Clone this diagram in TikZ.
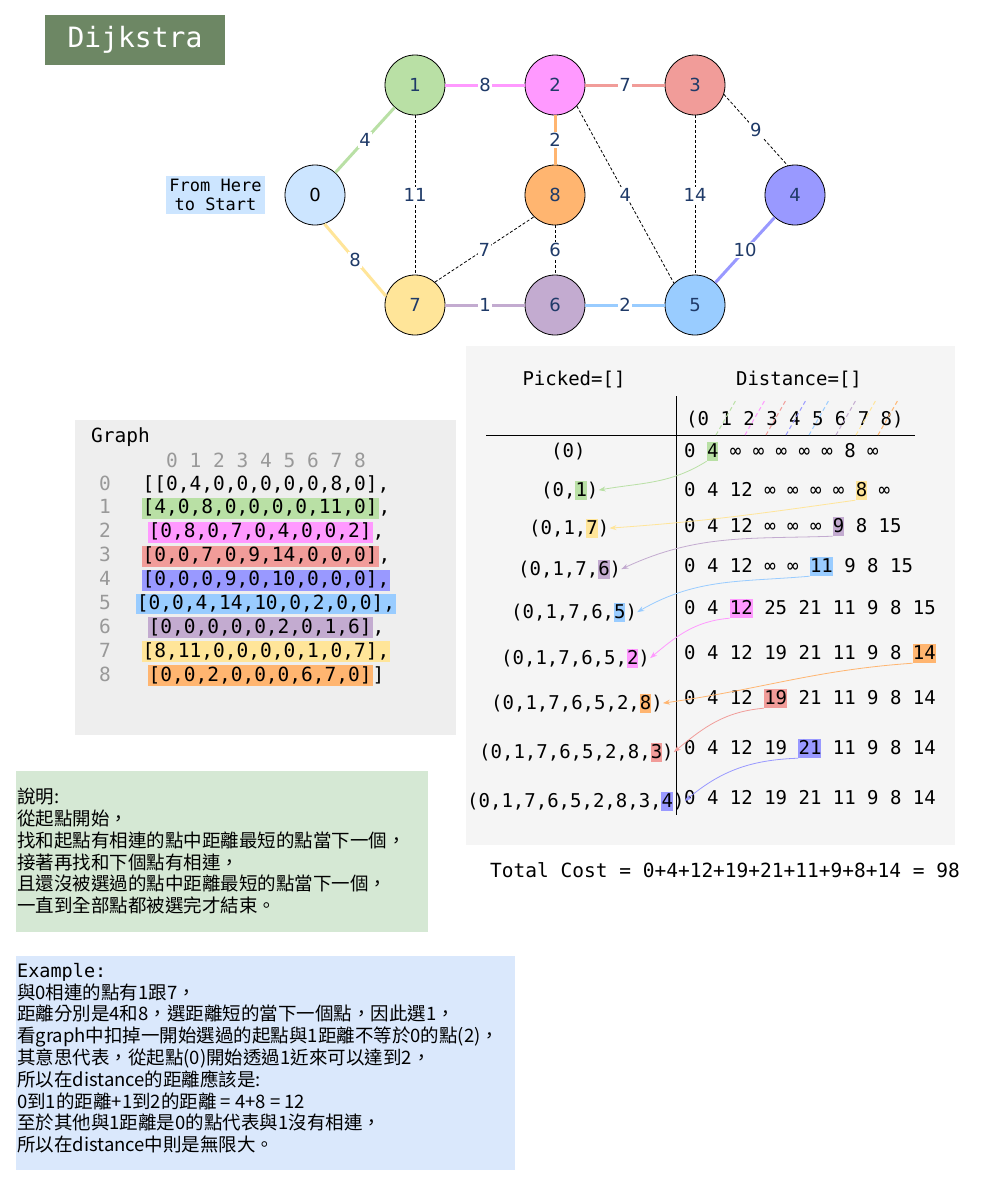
\documentclass[tikz,border=0pt]{standalone}
\usepackage{fontspec}
\setsansfont{DejaVu Sans}
\setmonofont{DejaVu Sans Mono}
\newfontfamily\cjk{Noto Sans CJK TC}
\usetikzlibrary{arrows.meta}

\definecolor{c0}{HTML}{CCE5FF}
\definecolor{c1}{HTML}{B9E0A5}
\definecolor{c2}{HTML}{FF99FF}
\definecolor{c3}{HTML}{F19C99}
\definecolor{c4}{HTML}{9999FF}
\definecolor{c5}{HTML}{99CCFF}
\definecolor{c6}{HTML}{C3ABD0}
\definecolor{c7}{HTML}{FFE599}
\definecolor{c8}{HTML}{FFB570}
\definecolor{lab}{HTML}{1F3A68}
\definecolor{titlebg}{HTML}{6D8764}
\definecolor{graybg}{HTML}{EEEEEE}
\definecolor{tablebg}{HTML}{F5F5F5}
\definecolor{notebg}{HTML}{D5E8D4}
\definecolor{examplebg}{HTML}{DAE8FC}
\definecolor{idx}{HTML}{999999}

\def\charw{11.44}
\newcommand{\hlrow}[2]{{\setlength{\fboxsep}{1pt}\colorbox{#1}{\rule[-4pt]{0pt}{15pt}#2}}}

\begin{document}
\begin{tikzpicture}[x=1pt,y=-1pt,
  vertex/.style={circle,draw,line width=0.8pt,minimum size=60pt,inner sep=0pt,text=lab,font=\sffamily\fontsize{18}{18}\selectfont},
  edge/.style={line width=3pt},
  faint/.style={densely dashed,line width=0.8pt},
  wt/.style={fill=white,inner sep=1pt,text=lab,font=\sffamily\fontsize{18}{18}\selectfont},
  mono/.style={inner sep=0pt,font=\ttfamily\fontsize{19}{19}\selectfont},
  bigmono/.style={inner sep=0pt,font=\ttfamily\fontsize{19.5}{19.5}\selectfont},
  hlbox/.style={inner sep=0pt,minimum height=19pt},
  pick/.style={line width=0.8pt,-{Stealth[length=7pt,width=5pt]}},
  note/.style={anchor=north west,inner sep=0pt,align=left,font=\cjk\fontsize{18.5}{21.8}\selectfont}]

  \useasboundingbox (0,0) rectangle (992,1186);
  \fill[white] (0,0) rectangle (992,1186);

  % title and start hint
  \node[fill=titlebg,minimum width=180pt,minimum height=50pt,inner sep=0pt,text=white,font=\ttfamily\fontsize{28}{28}\selectfont] at (135,40) (title) {Dijkstra};
  \node[fill=c0,minimum width=99pt,minimum height=38pt,inner sep=0pt,align=center,font=\ttfamily\fontsize{17}{19.5}\selectfont] at (215.5,195) (start) {From Here\\to Start};

  % the graph
  \node[vertex,fill=c0,text=black] at (315,195) (v0) {0};
  \node[vertex,fill=c1] at (415,85) (v1) {1};
  \node[vertex,fill=c2] at (555,85) (v2) {2};
  \node[vertex,fill=c3] at (695,85) (v3) {3};
  \node[vertex,fill=c4] at (795,195) (v4) {4};
  \node[vertex,fill=c5] at (695,305) (v5) {5};
  \node[vertex,fill=c6] at (555,305) (v6) {6};
  \node[vertex,fill=c7] at (415,305) (v7) {7};
  \node[vertex,fill=c8] at (555,195) (v8) {8};

  \draw[edge,c1] (v0) -- node[wt] (w01) {4} (v1);
  \draw[edge,c7] (v0.-72) -- node[wt] (w07) {8} (v7.163);
  \draw[edge,c2] (v1) -- node[wt] (w12) {8} (v2);
  \draw[edge,c3] (v2) -- node[wt] (w23) {7} (v3);
  \draw[edge,c8] (v2) -- node[wt] (w28) {2} (v8);
  \draw[faint] (v1) -- node[wt] (w17) {11} (v7);
  \draw[faint] (v7.49) -- node[wt] (w78) {7} (v8.226);
  \draw[faint] (v8) -- node[wt] (w86) {6} (v6);
  \draw[edge,c6] (v7) -- node[wt] (w76) {1} (v6);
  \draw[edge,c5] (v6) -- node[wt] (w65) {2} (v5);
  \draw[faint] (v2.-44) -- node[wt] (w25) {4} (v5.134);
  \draw[faint] (v3) -- node[wt] (w35) {14} (v5);
  \draw[faint] (v3.-18) -- node[wt] (w34) {9} (v4.104);
  \draw[edge,c4] (v5) -- node[wt] (w54) {10} (v4);

  % adjacency matrix
  \fill[graybg] (75,420) rectangle (456,735);
  \node[bigmono,anchor=west] at (91,437) (gtitle) {Graph};
  \node[bigmono,text=idx,anchor=base] at (266,467) (gcols) {0 1 2 3 4 5 6 7 8};
  \foreach \i/\row in {0/{[[0,4,0,0,0,0,0,8,0],},
                       1/{\hlrow{c1}{[4,0,8,0,0,0,0,11,0]},},
                       2/{\hlrow{c2}{[0,8,0,7,0,4,0,0,2]},},
                       3/{\hlrow{c3}{[0,0,7,0,9,14,0,0,0]},},
                       4/{\hlrow{c4}{[0,0,0,9,0,10,0,0,0],}},
                       5/{\hlrow{c5}{[0,0,4,14,10,0,2,0,0],}},
                       6/{\hlrow{c6}{[0,0,0,0,0,2,0,1,6]},},
                       7/{\hlrow{c7}{[8,11,0,0,0,0,1,0,7],}},
                       8/{\hlrow{c8}{[0,0,2,0,0,0,6,7,0]}]}} {
    \node[bigmono,text=idx,anchor=base] at (105,{490+23.875*\i}) (gr\i) {\i};
    \node[bigmono,anchor=base] at (266,{490+23.875*\i}) (m\i) {\row};
  }

  % picked / distance table
  \fill[tablebg] (466,346) rectangle (955,845);
  \node[mono] at (574,380) (phead) {Picked=[]};
  \node[mono] at (799,380) (dhead) {Distance=[]};
  \draw[line width=0.8pt] (676,396) -- (676,815);
  \draw[line width=0.8pt] (486,435) -- (915,435);
  \node[mono,anchor=base west] at (686,425) (ihead) {(0 1 2 3 4 5 6 7 8)};
  \foreach \x/\c in {716/c1,745/c2,766/c3,786/c4,809/c5,836/c6,856/c7,878/c8}
    \draw[\c,line width=1pt,dash pattern=on 4pt off 3pt] (\x,435) -- ++(20,-35);

  \foreach \r/\yb/\k/\n/\c in {0/457/2/1/c1,1/496/15/1/c7,2/532/13/1/c6,3/572/11/2/c5,
                               4/614/4/2/c2,5/659/20/2/c8,6/704/7/2/c3,7/754/10/2/c4}
    \node[hlbox,fill=\c,minimum width={\n*\charw*1pt}] at ({684+(\k+\n/2)*\charw},\yb-5.5) (hd\r) {};
  \foreach \r/\yb/\L/\c in {1/496/541/c1,2/534/529/c7,3/575/518/c6,4/618/511/c5,
                            5/664/501/c2,6/709/491/c8,7/758/479/c3,8/807/467/c4}
    \node[hlbox,fill=\c,minimum width={\charw*1pt}] at ({\L+(2*\r+1.5)*\charw},\yb-5.5) (hp\r) {};

  \foreach \r/\yb/\t in {0/457/{0 4 ∞ ∞ ∞ ∞ ∞ 8 ∞},1/496/{0 4 12 ∞ ∞ ∞ ∞ 8 ∞},
                         2/532/{0 4 12 ∞ ∞ ∞ 9 8 15},3/572/{0 4 12 ∞ ∞ 11 9 8 15},
                         4/614/{0 4 12 25 21 11 9 8 15},5/659/{0 4 12 19 21 11 9 8 14},
                         6/704/{0 4 12 19 21 11 9 8 14},7/754/{0 4 12 19 21 11 9 8 14},
                         8/804/{0 4 12 19 21 11 9 8 14}}
    \node[mono,anchor=base west] at (684,\yb) (d\r) {\t};
  \foreach \r/\yb/\L/\t in {0/457/551/{(0)},1/496/541/{(0,1)},2/534/529/{(0,1,7)},
                            3/575/518/{(0,1,7,6)},4/618/511/{(0,1,7,6,5)},
                            5/664/501/{(0,1,7,6,5,2)},6/709/491/{(0,1,7,6,5,2,8)},
                            7/758/479/{(0,1,7,6,5,2,8,3)},8/807/467/{(0,1,7,6,5,2,8,3,4)}}
    \node[mono,anchor=base west] at (\L,\yb) (p\r) {\t};

  \foreach \r/\s/\c/\o/\i in {0/1/c1/-148/10,1/2/c7/-172/4,2/3/c6/-178/25,3/4/c5/-175/30,
                              4/5/c2/-175/40,5/6/c8/-176/8,6/7/c3/-175/40,7/8/c4/-178/40}
    \draw[pick,\c] (hd\r.south west) to[out=\o,in=\i] (p\s.east);

  \node[bigmono] at (725,870) (total) {Total Cost = 0+4+12+19+21+11+9+8+14 = 98};

  % notes
  \fill[notebg] (16,771) rectangle (428,932);
  \node[note] at (17,788) (explain) {說明:\\從起點開始，\\找和起點有相連的點中距離最短的點當下一個，\\接著再找和下個點有相連，\\且還沒被選過的點中距離最短的點當下一個，\\一直到全部點都被選完才結束。};

  \fill[examplebg] (16,956) rectangle (515,1170);
  \node[note] at (17,963) (example) {{\ttfamily Example:}\\與0相連的點有1跟7，\\距離分別是4和8，選距離短的當下一個點，因此選1，\\看graph中扣掉一開始選過的起點與1距離不等於0的點(2)，\\其意思代表，從起點(0)開始透過1近來可以達到2，\\所以在distance的距離應該是:\\0到1的距離+1到2的距離 = 4+8 = 12\\至於其他與1距離是0的點代表與1沒有相連，\\所以在distance中則是無限大。};

\end{tikzpicture}
\end{document}
